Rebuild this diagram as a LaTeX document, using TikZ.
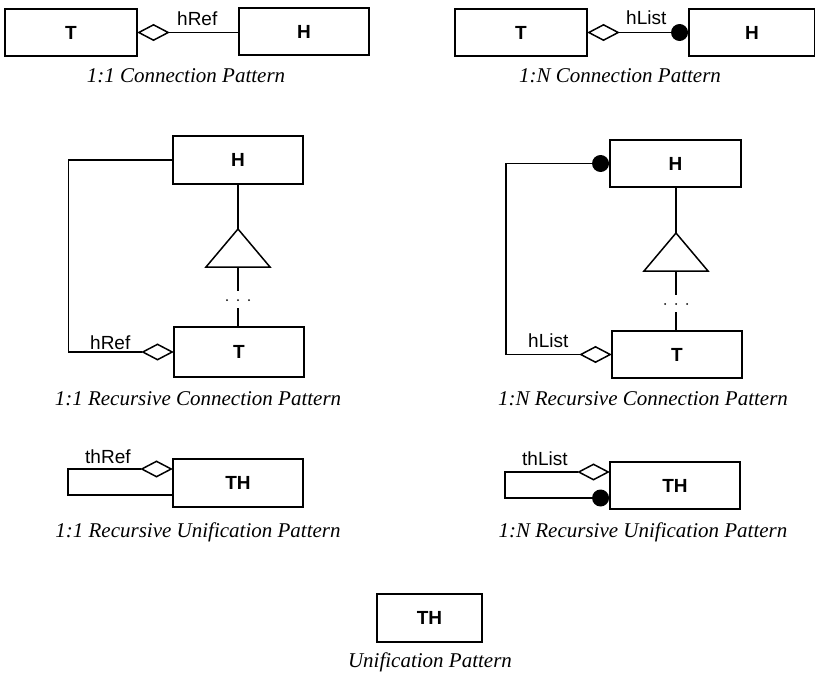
\documentclass[tikz,border=0pt]{standalone}
\usepackage{fontspec}
\setmainfont{Liberation Serif}
\setsansfont{Liberation Sans}
\usetikzlibrary{shapes.geometric}
\begin{document}
\begin{tikzpicture}[x=1pt,y=-1pt,
  box/.style={draw, line width=1.5pt, minimum width=130pt, minimum height=48pt, inner sep=0pt,
    font=\sffamily\bfseries\fontsize{19}{19}\selectfont},
  diam/.style={draw, line width=1.5pt, fill=white, diamond, minimum width=30pt, minimum height=16pt, inner sep=0pt},
  dotend/.style={circle, fill=black, minimum size=17pt, inner sep=0pt},
  conn/.style={line width=1.5pt},
  lbl/.style={font=\sffamily\fontsize{19}{19}\selectfont, inner sep=0pt, anchor=base west},
  captext/.style={font=\itshape\fontsize{21}{21}\selectfont, inner sep=0pt, anchor=base},
  gen/.style={line width=1.5pt, fill=white}]
\useasboundingbox (0,0) rectangle (815,675);

% ---- 1:1 connection
\node[box, minimum width=132pt, minimum height=47pt] (T1) at (71,32.5) {T};
\node[box, minimum height=47pt] (H1) at (304,31.5) {H};
\node[diam, anchor=west] (d1) at (T1.east) {};
\draw[conn] (d1.east) -- (d1.east -| H1.west);
\node[lbl] (l1) at (177,25) {hRef};
\node[captext] (c1) at (186,82) {1:1 Connection Pattern};

% ---- 1:N connection
\node[box, minimum width=132pt, minimum height=47pt] (T2) at (521,32.5) {T};
\node[box, minimum width=126pt, minimum height=47pt] (H2) at (752,32.5) {H};
\node[diam, anchor=west] (d2) at (T2.east) {};
\node[dotend, anchor=east] (o2) at (d2.east -| H2.west) {};
\draw[conn] (d2.east) -- (o2.west);
\node[lbl] (l2) at (626,24) {hList};
\node[captext] (c2) at (620,82) {1:N Connection Pattern};

% ---- 1:1 recursive connection
\node[box] (H3) at (238,160) {H};
\node[box, minimum height=50pt] (T3) at (239,352) {T};
\node[diam, anchor=east] (d3) at (T3.west) {};
\draw[conn] (H3.west) -- ++(-104,0) |- (d3.west);
\coordinate (g3a) at (238,229);
\coordinate (g3b) at (238,267);
\draw[conn] (g3a |- H3.south) -- (g3a);
\draw[gen] (g3a) -- ++(32,38) -- ++(-64,0) -- cycle;
\draw[conn] (g3b) -- ++(0,24);
\foreach \dx in {-11,0,11} \fill (238+\dx,300) circle (1pt);
\draw[conn] (238,308) -- (238,327);
\node[lbl] (l3) at (90,349) {hRef};
\node[captext] (c3) at (198,405) {1:1 Recursive Connection Pattern};

% ---- 1:N recursive connection
\node[box, minimum width=131pt, minimum height=47pt] (H4) at (675.5,163.5) {H};
\node[box, minimum height=47pt] (T4) at (677,354.5) {T};
\node[dotend, anchor=east] (o4) at (H4.west) {};
\node[diam, anchor=east] (d4) at (T4.west) {};
\draw[conn] (o4.west) -- ++(-86,0) |- (d4.west);
\coordinate (g4a) at (676,233);
\coordinate (g4b) at (676,271);
\draw[conn] (g4a |- H4.south) -- (g4a);
\draw[gen] (g4a) -- ++(32,38) -- ++(-64,0) -- cycle;
\draw[conn] (g4b) -- ++(0,24);
\foreach \dx in {-11,0,11} \fill (676+\dx,304) circle (1pt);
\draw[conn] (676,312) -- (676,331);
\node[lbl] (l4) at (528,347) {hList};
\node[captext] (c4) at (643,405) {1:N Recursive Connection Pattern};

% ---- 1:1 recursive unification
\node[box] (TH5) at (238,483) {TH};
\node[diam, anchor=east] (d5) at ([yshift=14pt]TH5.west) {};
\draw[conn] (d5.west) -- ++(-73,0) |- ([yshift=-12pt]TH5.west);
\node[lbl] (l5) at (85,463) {thRef};
\node[captext] (c5) at (198,537) {1:1 Recursive Unification Pattern};

% ---- 1:N recursive unification
\node[box, minimum height=47pt] (TH6) at (675,485.5) {TH};
\node[diam, anchor=east] (d6) at ([yshift=13.5pt]TH6.west) {};
\node[dotend, anchor=east] (o6) at ([yshift=-12.5pt]TH6.west) {};
\draw[conn] (d6.west) -- ++(-73,0) |- (o6.west);
\node[lbl] (l6) at (522,465) {thList};
\node[captext] (c6) at (643,537) {1:N Recursive Unification Pattern};

% ---- unification
\node[box, minimum width=105pt] (TH7) at (429.5,618) {TH};
\node[captext] (c7) at (430,667) {Unification Pattern};
\end{tikzpicture}
\end{document}
